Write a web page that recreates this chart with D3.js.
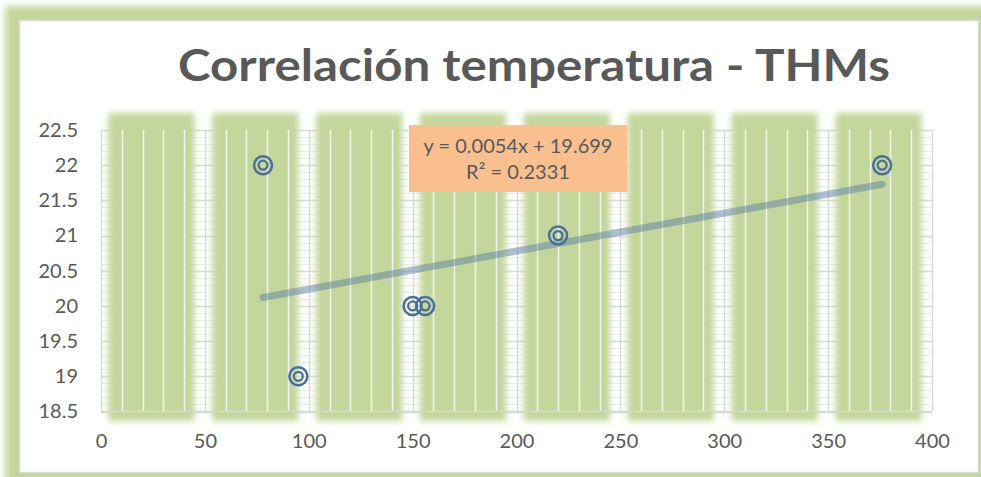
<!DOCTYPE html>
<html>
<head>
<meta charset="utf-8">
<script src="https://cdn.jsdelivr.net/npm/d3@7"></script>
<style>
  html, body { margin: 0; padding: 0; background: #fff; }
  svg { display: block; }
</style>
</head>
<body>
<svg id="chart" width="981" height="477"></svg>
<script>
// ---- data ----
const titleText = "Correlación temperatura - THMs";
const xValues = [78, 95, 150, 156, 220, 376];
const yValues = [22, 19, 20, 20, 21, 22];
const xTicks = [0, 50, 100, 150, 200, 250, 300, 350, 400];
const yTicks = [18.5, 19, 19.5, 20, 20.5, 21, 21.5, 22, 22.5];
const trendSlope = 0.0054;
const trendIntercept = 19.699;
const equationLines = ["y = 0.0054x + 19.699", "R² = 0.2331"];

// ---- layout ----
const W = 981, H = 477;
const plot = { left: 101, right: 932, top: 130, bottom: 411.5 };
const svg = d3.select("#chart");
const defs = svg.append("defs");
defs.append("filter").attr("id", "blurOuter").attr("x", "-5%").attr("y", "-5%").attr("width", "110%").attr("height", "110%")
  .append("feGaussianBlur").attr("stdDeviation", 3.5);
defs.append("filter").attr("id", "blurBand").attr("x", "-30%").attr("y", "-10%").attr("width", "160%").attr("height", "120%")
  .append("feGaussianBlur").attr("stdDeviation", 3);

const green = "#c3d69b";
const textColor = "#595959";
const font = "Lato, 'Open Sans', sans-serif";

// outer glow frame
svg.append("rect").attr("x", 5).attr("y", 6).attr("width", 990).attr("height", 480)
  .attr("fill", green).attr("filter", "url(#blurOuter)");
svg.append("rect").attr("x", 19.5).attr("y", 20.5).attr("width", 959).attr("height", 452)
  .attr("fill", "#fff").attr("stroke", "#d9d9d9").attr("stroke-width", 1.5);

// scales
const x = d3.scaleLinear().domain([0, 400]).range([plot.left, plot.right]);
const y = d3.scaleLinear().domain([18.5, 22.5]).range([plot.bottom, plot.top]);

// horizontal minor gridlines (0.1)
const yMinor = d3.range(185, 226).map(v => v / 10);
svg.append("g").selectAll("line").data(yMinor).join("line")
  .attr("x1", plot.left).attr("x2", plot.right)
  .attr("y1", d => Math.round(y(d)) + 0.5).attr("y2", d => Math.round(y(d)) + 0.5)
  .attr("stroke", "#ececec").attr("stroke-width", 1);
// horizontal major gridlines
svg.append("g").selectAll("line").data(yTicks).join("line")
  .attr("x1", plot.left).attr("x2", plot.right)
  .attr("y1", d => Math.round(y(d)) + 0.5).attr("y2", d => Math.round(y(d)) + 0.5)
  .attr("stroke", "#d9d9d9").attr("stroke-width", 1.5);

// green bands per major interval
const bandStarts = xTicks.slice(0, -1);
svg.append("g").attr("filter", "url(#blurBand)").selectAll("rect").data(bandStarts).join("rect")
  .attr("x", d => x(d + 3.5)).attr("width", d => x(d + 45) - x(d + 3.5))
  .attr("y", 113).attr("height", 308)
  .attr("fill", green);

// vertical minor gridlines (every 10)
const xMinor = d3.range(0, 401, 10).filter(v => v % 50 !== 0);
svg.append("g").selectAll("line").data(xMinor).join("line")
  .attr("x1", d => Math.round(x(d)) + 0.5).attr("x2", d => Math.round(x(d)) + 0.5)
  .attr("y1", plot.top).attr("y2", plot.bottom)
  .attr("stroke", "#f4f6ef").attr("stroke-width", 1.5);
// vertical major gridlines
svg.append("g").selectAll("line").data(xTicks).join("line")
  .attr("x1", d => Math.round(x(d)) + 0.5).attr("x2", d => Math.round(x(d)) + 0.5)
  .attr("y1", plot.top).attr("y2", plot.bottom)
  .attr("stroke", "#d9d9d9").attr("stroke-width", 1.5);
// bottom axis line
svg.append("line").attr("x1", plot.left).attr("x2", plot.right)
  .attr("y1", plot.bottom).attr("y2", plot.bottom)
  .attr("stroke", "#d9d9d9").attr("stroke-width", 1.5);

// axes labels via d3 axes
const xAxis = svg.append("g").attr("transform", `translate(0,${plot.bottom})`)
  .call(d3.axisBottom(x).tickValues(xTicks).tickSize(0).tickPadding(22).tickFormat(d3.format("d")));
xAxis.select(".domain").remove();
xAxis.selectAll("text").attr("fill", textColor).style("font-family", font).style("font-size", "20px");

const yAxis = svg.append("g").attr("transform", `translate(78,0)`)
  .call(d3.axisLeft(y).tickValues(yTicks).tickSize(0).tickPadding(0).tickFormat(d => d3.format("")(d)));
yAxis.select(".domain").remove();
yAxis.selectAll("text").attr("fill", textColor).style("font-family", font).style("font-size", "20px");

// trendline
const xMin = d3.min(xValues), xMax = d3.max(xValues);
svg.append("line")
  .attr("x1", x(xMin)).attr("y1", y(trendSlope * xMin + trendIntercept))
  .attr("x2", x(xMax)).attr("y2", y(trendSlope * xMax + trendIntercept))
  .attr("stroke", "#5f82a3").attr("stroke-opacity", 0.5)
  .attr("stroke-width", 7).attr("stroke-linecap", "round");

// markers (double circles)
const pts = xValues.map((v, i) => ({ x: v, y: yValues[i] }));
const mk = svg.append("g").selectAll("g").data(pts).join("g")
  .attr("transform", d => `translate(${x(d.x)},${y(d.y)})`);
mk.append("circle").attr("r", 9).attr("fill", "none").attr("stroke", "#4a6f9b").attr("stroke-width", 2.5);
mk.append("circle").attr("r", 4.5).attr("fill", "none").attr("stroke", "#4a6f9b").attr("stroke-width", 2.2);

// equation box
svg.append("rect").attr("x", 409).attr("y", 125).attr("width", 218).attr("height", 67)
  .attr("fill", "#f9bf8f");
svg.append("g").selectAll("text").data(equationLines).join("text")
  .attr("x", 518).attr("y", (d, i) => 153 + i * 26)
  .attr("text-anchor", "middle")
  .attr("fill", textColor).style("font-family", font).style("font-size", "20px")
  .text(d => d);

// title
svg.append("text").attr("x", 534).attr("y", 81)
  .attr("text-anchor", "middle")
  .attr("fill", textColor)
  .style("font-family", font).style("font-weight", "bold").style("font-size", "44px")
  .attr("textLength", 712).attr("lengthAdjust", "spacingAndGlyphs")
  .text(titleText);
</script>
</body>
</html>
